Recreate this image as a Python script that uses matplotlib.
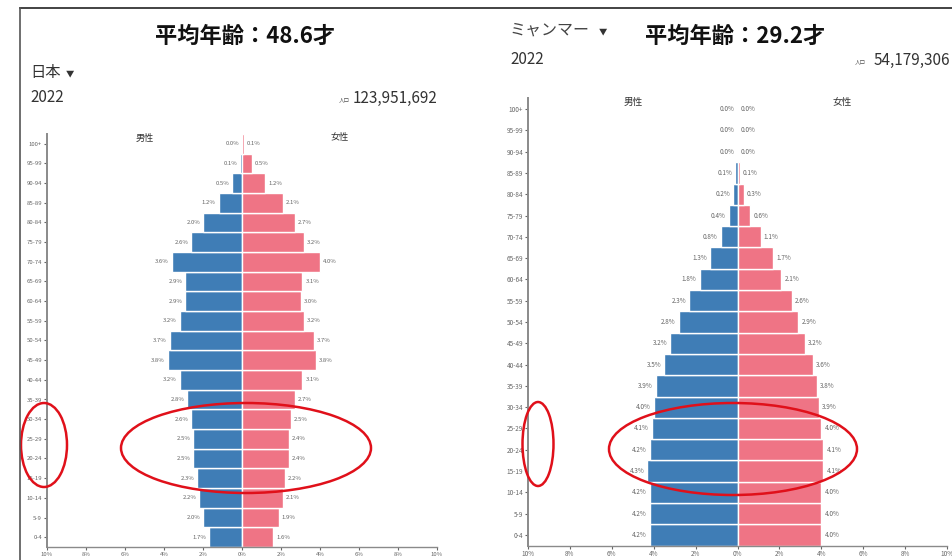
import matplotlib
matplotlib.use('Agg')
import matplotlib.pyplot as plt
from matplotlib.patches import Ellipse

plt.rcParams['font.family'] = ['Noto Sans CJK JP', 'DejaVu Sans']

# age groups, bottom (0-4) to top (100+)
ages = ['0-4', '5-9', '10-14', '15-19', '20-24', '25-29', '30-34', '35-39', '40-44', '45-49',
        '50-54', '55-59', '60-64', '65-69', '70-74', '75-79', '80-84', '85-89', '90-94', '95-99', '100+']

# percentages, listed from 0-4 up to 100+
jp_male = [1.7, 2.0, 2.2, 2.3, 2.5, 2.5, 2.6, 2.8, 3.2, 3.8, 3.7, 3.2, 2.9, 2.9, 3.6, 2.6, 2.0, 1.2, 0.5, 0.1, 0.0]
jp_female = [1.6, 1.9, 2.1, 2.2, 2.4, 2.4, 2.5, 2.7, 3.1, 3.8, 3.7, 3.2, 3.0, 3.1, 4.0, 3.2, 2.7, 2.1, 1.2, 0.5, 0.1]
mm_male = [4.2, 4.2, 4.2, 4.3, 4.2, 4.1, 4.0, 3.9, 3.5, 3.2, 2.8, 2.3, 1.8, 1.3, 0.8, 0.4, 0.2, 0.1, 0.0, 0.0, 0.0]
mm_female = [4.0, 4.0, 4.0, 4.1, 4.1, 4.0, 3.9, 3.8, 3.6, 3.2, 2.9, 2.6, 2.1, 1.7, 1.1, 0.6, 0.3, 0.1, 0.0, 0.0, 0.0]
xticks = [-10, -8, -6, -4, -2, 0, 2, 4, 6, 8, 10]

BLUE = '#3f7db6'
PINK = '#ef7485'
GREY = '#666666'


def pyramid(ax, male, female, fs):
    y = range(len(ages))
    ax.barh(y, [-m for m in male], height=1.0, color=BLUE, edgecolor='white', linewidth=1)
    ax.barh(y, female, height=1.0, color=PINK, edgecolor='white', linewidth=1)
    for i, (m, f) in enumerate(zip(male, female)):
        ax.text(-m - 0.15, i, f'{m:.1f}%', ha='right', va='center', fontsize=fs, color=GREY)
        ax.text(f + 0.15, i, f'{f:.1f}%', ha='left', va='center', fontsize=fs, color=GREY)
    ax.set_xlim(-10, 10)
    ax.set_ylim(-0.5, len(ages) - 0.5)
    ax.set_yticks(list(y))
    ax.set_yticklabels(ages)
    ax.set_xticks(xticks)
    ax.set_xticklabels([f'{abs(t)}%' for t in xticks])
    ax.tick_params(labelsize=fs, colors=GREY, length=2, width=0.8, pad=1.5)
    for s in ['top', 'right']:
        ax.spines[s].set_visible(False)
    ax.spines['left'].set_color('#8a8a8a')
    ax.spines['left'].set_linewidth(1.4)
    ax.spines['bottom'].set_color('#8a8a8a')
    ax.spines['bottom'].set_linewidth(1.0)
    # sex labels just above the top row
    ax.text(-5, len(ages) - 0.7, '男性', ha='center', va='center', fontsize=fs + 2.3, color='#333333')
    ax.text(5, len(ages) - 0.7, '女性', ha='center', va='center', fontsize=fs + 2.3, color='#333333')


fig = plt.figure(figsize=(9.53, 5.6), dpi=100)

ax1 = fig.add_axes([47 / 953, 1 - 547 / 560, 390 / 953, 413 / 560])
pyramid(ax1, jp_male, jp_female, 4.3)

ax2 = fig.add_axes([528 / 953, 1 - 545.6 / 560, 419 / 953, 447.2 / 560])
pyramid(ax2, mm_male, mm_female, 4.6)

# overlay in pixel coordinates for headers, frame and the red circles
ov = fig.add_axes([0, 0, 1, 1], zorder=10)
ov.set_xlim(0, 953)
ov.set_ylim(560, 0)
ov.axis('off')
ov.patch.set_alpha(0)

ov.plot([20, 953], [8, 8], color='#222222', lw=1.2)
ov.plot([20, 20], [8, 560], color='#555555', lw=1.2)

ov.text(245, 36, '平均年齢：48.6才', ha='center', va='center', fontsize=16, fontweight='bold', color='#111111')
ov.text(30, 72, '日本', ha='left', va='center', fontsize=11, color='#333333')
ov.text(66, 74, '▼', ha='left', va='center', fontsize=6, color='#333333')
ov.text(30, 98, '2022', ha='left', va='center', fontsize=11, color='#333333')
ov.text(350, 100, '人口', ha='right', va='center', fontsize=4, color='#555555')
ov.text(437, 98, '123,951,692', ha='right', va='center', fontsize=11, color='#333333')

ov.text(510, 30, 'ミャンマー', ha='left', va='center', fontsize=11.5, color='#444444')
ov.text(599, 32, '▼', ha='left', va='center', fontsize=6, color='#333333')
ov.text(735, 36, '平均年齢：29.2才', ha='center', va='center', fontsize=16, fontweight='bold', color='#111111')
ov.text(510, 60, '2022', ha='left', va='center', fontsize=11, color='#333333')
ov.text(866, 62, '人口', ha='right', va='center', fontsize=4, color='#555555')
ov.text(950, 60, '54,179,306', ha='right', va='center', fontsize=11, color='#333333')

red = '#e0101a'
for cx, cy, w, h in [(44, 445, 46, 84), (246, 448, 250, 90), (538, 444, 31, 84), (733, 449, 248, 92)]:
    ov.add_patch(Ellipse((cx, cy), w, h, fill=False, edgecolor=red, lw=1.8))

fig.savefig('out.png', dpi=100)
